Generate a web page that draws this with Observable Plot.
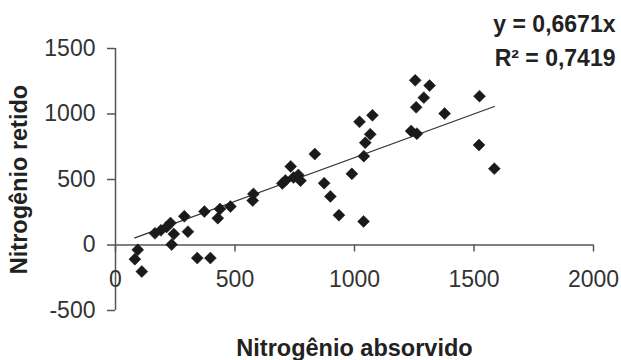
<!DOCTYPE html>
<html>
<head>
<meta charset="utf-8">
<script src="https://cdn.jsdelivr.net/npm/d3@7"></script>
<script src="https://cdn.jsdelivr.net/npm/@observablehq/plot@0.6"></script>
<style>
  html, body { margin: 0; padding: 0; background: #fff; }
  #chart svg { display: block; }
</style>
</head>
<body>
<div id="chart"></div>
<script>
// Nitrogênio absorvido (x) and Nitrogênio retido (y)
const absorvido = [81, 93, 110, 165, 190, 214, 230, 244, 235, 288, 303, 342, 372, 397, 428, 437, 481, 574, 577,
  698, 711, 733, 745, 765, 774, 834, 873, 899, 935, 989, 1021, 1038, 1039, 1045, 1066, 1075,
  1237, 1261, 1254, 1258, 1290, 1314, 1377, 1523, 1521, 1585];
const retido = [-108, -37, -203, 89, 112, 138, 168, 84, 3, 219, 102, -100, 255, -100, 205, 275, 293, 339, 390,
  470, 493, 600, 516, 535, 491, 694, 472, 371, 228, 543, 940, 180, 678, 781, 845, 990,
  870, 850, 1257, 1051, 1125, 1217, 1003, 1136, 763, 583];
const slope = 0.6671;
const r2 = 0.7419;
const xTicks = [0, 500, 1000, 1500, 2000];
const yTicks = [-500, 0, 500, 1000, 1500];
const xTitle = "Nitrogênio absorvido";
const yTitle = "Nitrogênio retido";
const eqLines = ["y = 0,6671x", "R² = 0,7419"];

const points = absorvido.map((x, i) => ({x, y: retido[i]}));
const xExt = d3.extent(absorvido);
const fitLine = xExt.map(x => ({x, y: slope * x}));

const chart = Plot.plot({
  width: 621,
  height: 360,
  marginLeft: 115,
  marginRight: 28,
  marginTop: 48,
  marginBottom: 50,
  style: {fontFamily: "'Liberation Sans', Arial, sans-serif", fontSize: "23px", color: "#333", background: "#fff"},
  x: {domain: [0, 2000], axis: null},
  y: {domain: [-500, 1500], axis: null},
  marks: [
    Plot.ruleX([0], {stroke: "#555", strokeWidth: 1.5}),
    Plot.ruleY([0], {stroke: "#555", strokeWidth: 1.5}),
    Plot.axisY({ticks: yTicks, tickSize: 8, tickPadding: 12, tickFormat: d => String(d), label: null, stroke: "#555", strokeWidth: 1.5, fill: "#333", fontSize: 23}),
    Plot.ruleX(xTicks, {x: d => d, y1: 0, y2: 0, insetBottom: -7, stroke: "#555", strokeWidth: 1.5}),
    Plot.text(xTicks, {x: d => d, y: 0, dy: 34.5, text: d => String(d), fill: "#333", fontSize: 23}),
    Plot.line(fitLine, {x: "x", y: "y", stroke: "#333", strokeWidth: 1.3}),
    Plot.dot(points, {x: "x", y: "y", symbol: "diamond2", r: 5.4, fill: "#1a1a1a", stroke: "#1a1a1a", strokeWidth: 0.5}),
    Plot.text([xTitle], {frameAnchor: "bottom", lineAnchor: "middle", textAnchor: "middle", dy: 38, text: d => d, fontWeight: "bold", fill: "#222", fontSize: 23.5}),
    Plot.text([yTitle], {frameAnchor: "left", lineAnchor: "middle", textAnchor: "middle", dx: -96, rotate: -90, text: d => d, fontWeight: "bold", fill: "#222", fontSize: 23.5}),
    Plot.text([eqLines[0]], {frameAnchor: "top-right", lineAnchor: "middle", textAnchor: "end", dx: 22, dy: -24, text: d => d, fontWeight: "bold", fill: "#222", fontSize: 23}),
    Plot.text([eqLines[1]], {frameAnchor: "top-right", lineAnchor: "middle", textAnchor: "end", dx: 22, dy: 10.5, text: d => d, fontWeight: "bold", fill: "#222", fontSize: 23})
  ]
});
document.getElementById("chart").appendChild(chart);
</script>
</body>
</html>
